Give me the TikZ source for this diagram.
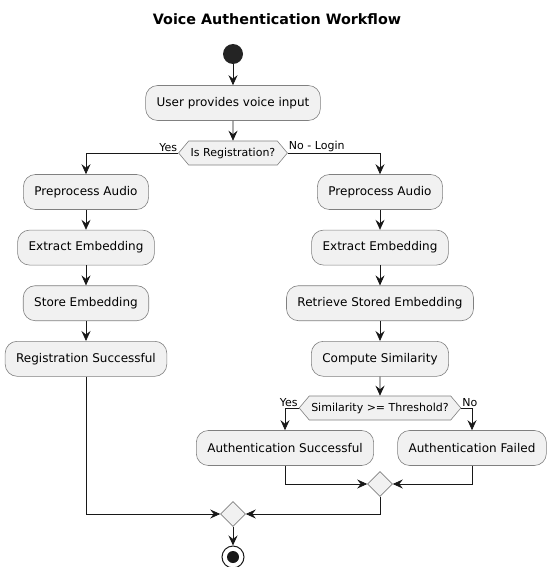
\documentclass[tikz,border=0pt]{standalone}
\usepackage{fontspec}
\setmainfont{DejaVu Sans}
\usepackage{xcolor}
\usetikzlibrary{arrows.meta, positioning, shapes.geometric, shapes.symbols}
\definecolor{actfill}{HTML}{F1F1F1}
\definecolor{actline}{HTML}{181818}

\begin{document}
\begin{tikzpicture}[x=1pt, y=-1pt, node distance=20pt,
        action/.style={rectangle, draw=actline!55, line width=0.6pt, fill=actfill, rounded corners=12pt, minimum height=35pt, inner xsep=11pt, font=\fontsize{12}{14}\selectfont},
        decision/.style={signal, signal to=east and west, signal pointer angle=100, draw=actline!55, line width=0.6pt, fill=actfill, minimum height=24pt, inner xsep=2pt, inner ysep=2pt, font=\fontsize{11}{13}\selectfont},
        merge/.style={diamond, draw=actline!55, line width=0.6pt, fill=actfill, minimum size=25pt, inner sep=0pt},
        guard/.style={font=\fontsize{11}{13}\selectfont, inner sep=1pt},
        line/.style={draw=actline, line width=0.7pt, -{Stealth[length=10pt, width=9pt, inset=3.5pt]}}]
        \useasboundingbox (0,0) rectangle (547,567);

        \node [font=\bfseries\fontsize{14.3}{16}\selectfont] (title) at (277,19) {Voice Authentication Workflow};
        \node [circle, fill=actline!95, minimum size=20pt, inner sep=0pt] (start) at (233,54) {};
        \node [action] (voice) at (233,103) {User provides voice input};
        \node [decision] (isreg) at (233,153) {Is Registration?};

        % registration branch
        \node [action] (prepA) at (86,192) {Preprocess Audio};
        \node [action, below=of prepA] (extA) {Extract Embedding};
        \node [action, below=of extA] (store) {Store Embedding};
        \node [action, below=of store] (regok) {Registration Successful};

        % login branch
        \node [action] (prepB) at (380,192) {Preprocess Audio};
        \node [action, below=of prepB] (extB) {Extract Embedding};
        \node [action, below=of extB] (fetch) {Retrieve Stored Embedding};
        \node [action, below=of fetch] (simil) {Compute Similarity};
        \node [decision] (thresh) at (380,408) {Similarity >= Threshold?};
        \node [action] (authok) at (285,448) {Authentication Successful};
        \node [action] (authno) at (472,448) {Authentication Failed};

        \node [merge] (mergeB) at (380,484) {};
        \node [merge] (mergeAll) at (233,514) {};
        \node [circle, draw=actline, line width=1pt, fill=white, minimum size=22pt, inner sep=0pt] (stop) at (233,557) {};
        \node [circle, fill=actline, minimum size=12pt, inner sep=0pt] (stopdot) at (stop) {};

        \node [guard, anchor=south east] (yesA) at (isreg.west) {Yes};
        \node [guard, anchor=south west] (noA) at (isreg.east) {No - Login};
        \node [guard, anchor=south east] (yesB) at (thresh.west) {Yes};
        \node [guard, anchor=south west] (noB) at (thresh.east) {No};

        \path [line] (start) -- (voice);
        \path [line] (voice) -- (isreg);
        \path [line] (isreg.west) -| (prepA);
        \path [line] (isreg.east) -| (prepB);
        \path [line] (prepA) -- (extA);
        \path [line] (extA) -- (store);
        \path [line] (store) -- (regok);
        \path [line] (prepB) -- (extB);
        \path [line] (extB) -- (fetch);
        \path [line] (fetch) -- (simil);
        \path [line] (simil) -- (thresh);
        \path [line] (thresh.west) -| (authok);
        \path [line] (thresh.east) -| (authno);
        \path [line] (authok) |- (mergeB);
        \path [line] (authno) |- (mergeB);
        \path [line] (mergeB) |- (mergeAll);
        \path [line] (regok) |- (mergeAll);
        \path [line] (mergeAll) -- (stop);
    \end{tikzpicture}
\end{document}
